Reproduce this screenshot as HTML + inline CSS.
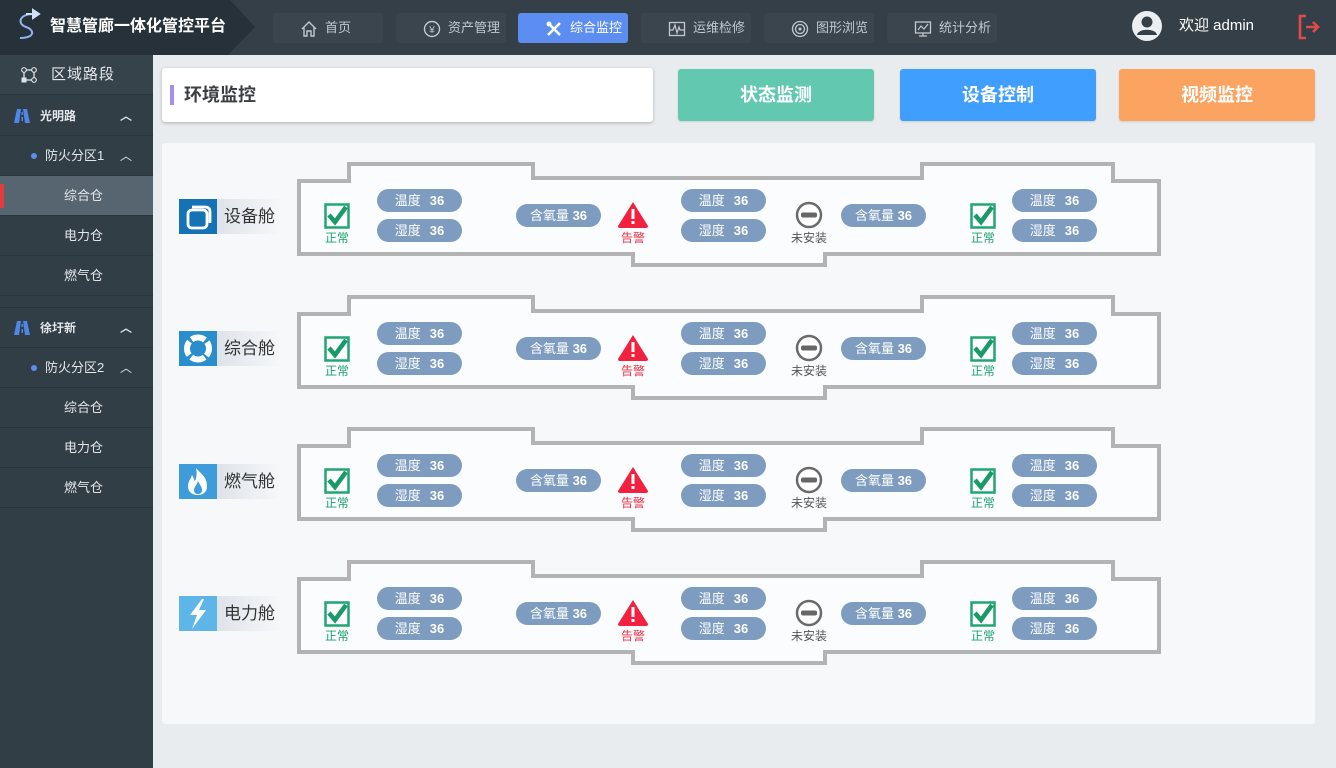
<!DOCTYPE html>
<html><head><meta charset="utf-8">
<style>
*{margin:0;padding:0;box-sizing:border-box}
body{width:1336px;height:768px;overflow:hidden;background:#e8ecef;font-family:"Liberation Sans","Noto Sans CJK SC",sans-serif;position:relative}
.a{position:absolute}
#hdr{left:0;top:0;width:1336px;height:55px;background:#343f48}
.nav{position:absolute;top:13px;height:30px;width:110px;background:#3a454e;border-radius:3px;color:#c3c9ce;font-size:13px;line-height:30px;padding-left:52px}
.nav svg{position:absolute;left:27px;top:7px}
.nav.on{background:#5b8ef0;color:#fff}
#side{left:0;top:55px;width:153px;height:713px;background:#323e46}
.si{position:absolute;left:0;width:153px;height:40px;border-bottom:1px solid #2a343b;color:#e3e7ea;font-size:13px;line-height:40px}
.chev{position:absolute;left:120px;top:0;color:#dfe3e6;font-size:12px}
.pill{position:absolute;height:23px;border-radius:12px;background:#7d9cbf;color:#fff;font-size:13px;line-height:23px;text-align:center;white-space:nowrap}
.pill b{font-weight:bold;margin-left:9px}
.cap{position:absolute;font-size:12px;width:50px;text-align:center;line-height:12px}
.lbl{position:absolute;left:179px;width:100px;height:35px;background:linear-gradient(90deg,#c8d0da 0,#dfe4ea 40%,#f5f7f9 100%)}
.lbl .ic{position:absolute;left:0;top:0;width:38px;height:35px}
.lbl span{position:absolute;left:45px;top:0;line-height:35px;font-size:17px;color:#333}
.btn{position:absolute;top:69px;height:52px;width:196px;border-radius:3px;color:#fff;font-size:18px;font-weight:bold;text-align:center;line-height:52px;box-shadow:0 1px 2px rgba(0,0,0,.12)}
</style></head><body>

<div id="hdr" class="a"></div>
<svg class="a" style="left:0;top:0" width="260" height="55"><polygon points="0,0 230,0 255,27 228,55 0,55" fill="#27313a"/>
<path d="M33 14 C19 14 17 24 26 27 C35 30 35 38 20 38" stroke="#8fb4ec" stroke-width="2" fill="none"/>
<path d="M26 14 H37 M33 10 L39 14 L33 18 Z" stroke="#cfe0f8" stroke-width="2" fill="#cfe0f8"/>
</svg>
<div class="a" style="left:50px;top:15px;color:#fff;font-size:16px;font-weight:bold;line-height:24px;letter-spacing:0">智慧管廊一体化管控平台</div>

<div class="nav" style="left:273px"><svg width="18" height="18" viewBox="0 0 18 18"><path d="M2 9 L9 2 L16 9 M4 7 V16 H7 V11 H11 V16 H14 V7" stroke="#c3c9ce" stroke-width="1.4" fill="none"/></svg>首页</div>
<div class="nav" style="left:396px"><svg width="18" height="18" viewBox="0 0 18 18"><circle cx="9" cy="9" r="7.5" stroke="#c3c9ce" stroke-width="1.4" fill="none"/><text x="9" y="13" font-size="10" fill="#c3c9ce" text-anchor="middle" font-family="Liberation Sans">¥</text></svg>资产管理</div>
<div class="nav on" style="left:518px"><svg width="18" height="18" viewBox="0 0 18 18"><path d="M3 15 L15 3 M3 3 L15 15" stroke="#fff" stroke-width="2.6"/><circle cx="4" cy="4" r="2.5" fill="#fff"/></svg>综合监控</div>
<div class="nav" style="left:641px"><svg width="18" height="18" viewBox="0 0 18 18"><rect x="1.5" y="2.5" width="15" height="13" stroke="#c3c9ce" stroke-width="1.3" fill="none"/><path d="M2 10 H5 L7 5 L9 13 L11 7 L12 10 H16" stroke="#c3c9ce" stroke-width="1.2" fill="none"/></svg>运维检修</div>
<div class="nav" style="left:764px"><svg width="18" height="18" viewBox="0 0 18 18"><circle cx="9" cy="9" r="7.5" stroke="#c3c9ce" stroke-width="1.3" fill="none"/><circle cx="9" cy="9" r="4.5" stroke="#c3c9ce" stroke-width="1.3" fill="none"/><circle cx="9" cy="9" r="1.5" fill="#c3c9ce"/></svg>图形浏览</div>
<div class="nav" style="left:887px"><svg width="18" height="18" viewBox="0 0 18 18"><rect x="1.5" y="2" width="15" height="11" stroke="#c3c9ce" stroke-width="1.3" fill="none"/><path d="M4 10 L7 6 L10 9 L14 4 M9 13 V16 M5 16 H13" stroke="#c3c9ce" stroke-width="1.2" fill="none"/></svg>统计分析</div>

<svg class="a" style="left:1131px;top:10px" width="32" height="32"><circle cx="16" cy="16" r="15" fill="#eceff1"/><circle cx="16" cy="12" r="5.5" fill="#343f48"/><path d="M6 25 C7 18 25 18 26 25 Z" fill="#343f48"/></svg>
<div class="a" style="left:1179px;top:16px;color:#fff;font-size:15px;line-height:20px">欢迎 admin</div>
<svg class="a" style="left:1297px;top:13px" width="26" height="28"><path d="M9 3 H3 V25 H9" stroke="#e04a4a" stroke-width="2.6" fill="none"/><path d="M9 14 H21 M16 9 L21 14 L16 19" stroke="#e04a4a" stroke-width="2.6" fill="none"/></svg>

<div id="side" class="a"></div>
<div class="si" style="top:55px;background:#37434b;font-size:15px;padding-left:51px;letter-spacing:1px">区域路段
<svg class="a" style="left:21px;top:12px" width="16" height="16"><rect x="3" y="3" width="10" height="10" stroke="#dfe3e6" stroke-width="1.3" fill="none"/><circle cx="3" cy="3" r="2.3" fill="#323e46" stroke="#dfe3e6" stroke-width="1.2"/><circle cx="13" cy="3" r="2.3" fill="#323e46" stroke="#dfe3e6" stroke-width="1.2"/><circle cx="13" cy="13" r="2.3" fill="#323e46" stroke="#dfe3e6" stroke-width="1.2"/><rect x="0.5" y="10.5" width="5" height="5" fill="#dfe3e6"/></svg></div>

<div class="si" style="top:96px;font-weight:bold;font-size:12px;padding-left:40px">光明路<svg class="a" style="left:14px;top:13px" width="16" height="14"><polygon points="3,0 7,0 5,14 0,14" fill="#4f86e8"/><polygon points="9,0 13,0 16,14 11,14" fill="#4f86e8"/><rect x="7.5" y="3" width="1.5" height="3" fill="#4f86e8"/><rect x="7.5" y="8" width="1.5" height="4" fill="#4f86e8"/></svg><span class="chev">︿</span></div>
<div class="si" style="top:136px;padding-left:45px">防火分区1<span class="a" style="left:31px;top:17px;width:6px;height:6px;border-radius:3px;background:#5b8ef0"></span><span class="chev">︿</span></div>
<div class="si" style="top:176px;background:#56656f;padding-left:64px">综合仓<span class="a" style="left:0;top:8px;width:4px;height:24px;background:#e23b3b"></span></div>
<div class="si" style="top:216px;padding-left:64px">电力仓</div>
<div class="si" style="top:256px;padding-left:64px">燃气仓</div>
<div class="a" style="left:0;top:307px;width:153px;height:1px;background:#2a343b"></div>
<div class="si" style="top:308px;font-weight:bold;font-size:12px;padding-left:40px">徐圩新<svg class="a" style="left:14px;top:13px" width="16" height="14"><polygon points="3,0 7,0 5,14 0,14" fill="#4f86e8"/><polygon points="9,0 13,0 16,14 11,14" fill="#4f86e8"/><rect x="7.5" y="3" width="1.5" height="3" fill="#4f86e8"/><rect x="7.5" y="8" width="1.5" height="4" fill="#4f86e8"/></svg><span class="chev">︿</span></div>
<div class="si" style="top:348px;padding-left:45px">防火分区2<span class="a" style="left:31px;top:17px;width:6px;height:6px;border-radius:3px;background:#5b8ef0"></span><span class="chev">︿</span></div>
<div class="si" style="top:388px;padding-left:64px">综合仓</div>
<div class="si" style="top:428px;padding-left:64px">电力仓</div>
<div class="si" style="top:468px;padding-left:64px">燃气仓</div>

<div class="a" style="left:162px;top:68px;width:491px;height:54px;background:#fff;border-radius:3px;box-shadow:0 1px 3px rgba(0,0,0,.25)"></div>
<div class="a" style="left:170px;top:85px;width:4px;height:20px;background:#a98cf0"></div>
<div class="a" style="left:184px;top:83px;font-size:18px;font-weight:bold;color:#3b3f44;line-height:24px">环境监控</div>
<div class="btn" style="left:678px;background:#62c8b0">状态监测</div>
<div class="btn" style="left:900px;background:#409efe">设备控制</div>
<div class="btn" style="left:1119px;background:#fba462">视频监控</div>

<div class="a" style="left:162px;top:143px;width:1153px;height:581px;background:#f7f8fa;border-radius:3px"></div>

<svg class="a" style="left:0;top:0" width="1336" height="768">
<defs>
<g id="pipe"><path d="M299,181 H349 V164 H533 V178 H922 V164 H1113 V181 H1159 V254 H825 V265 H633 V254 H299 Z" fill="#fbfcfd" stroke="#b3b3b3" stroke-width="4"/></g>
<g id="chk"><rect x="1.5" y="1.5" width="23" height="23" fill="#fff" stroke="#1fa672" stroke-width="2.5"/><path d="M5 12 L11 19 L22 4" stroke="#1a9a68" stroke-width="4.5" fill="none"/></g>
<g id="warn"><path d="M15 1 L30 25 Q30 27 28 27 H2 Q0 27 0 25 Z" fill="#f2213f"/><rect x="13.5" y="8" width="3" height="10" fill="#fff"/><rect x="13.5" y="20" width="3" height="3" fill="#fff"/></g>
<g id="minus"><circle cx="14" cy="13" r="12" fill="#fff" stroke="#6a6a6a" stroke-width="2.5"/><rect x="6" y="10.5" width="16" height="5" rx="2" fill="#666"/></g>
</defs>
<use href="#pipe"/>
<use href="#pipe" y="133"/>
<use href="#pipe" y="265"/>
<use href="#pipe" y="398"/>
<use href="#chk" x="324" y="203"/><use href="#chk" x="970" y="203"/>
<use href="#chk" x="324" y="336"/><use href="#chk" x="970" y="336"/>
<use href="#chk" x="324" y="468"/><use href="#chk" x="970" y="468"/>
<use href="#chk" x="324" y="601"/><use href="#chk" x="970" y="601"/>
<use href="#warn" x="618" y="201"/><use href="#warn" x="618" y="334"/><use href="#warn" x="618" y="466"/><use href="#warn" x="618" y="599"/>
<use href="#minus" x="795" y="202"/><use href="#minus" x="795" y="335"/><use href="#minus" x="795" y="467"/><use href="#minus" x="795" y="600"/>
</svg>

<!-- labels -->
<div class="lbl" style="top:199px"><div class="ic" style="background:#1572b5"><svg width="38" height="35"><rect x="9" y="11" width="19" height="18" rx="4" fill="none" stroke="#fff" stroke-width="2.8"/><path d="M13 8 H26 Q31 8 31 13 V24" fill="none" stroke="#fff" stroke-width="2.8"/></svg></div><span>设备舱</span></div>
<div class="lbl" style="top:331px"><div class="ic" style="background:#2a8dcc"><svg width="38" height="35"><circle cx="19" cy="17.5" r="11" fill="none" stroke="#fff" stroke-width="6"/><circle cx="19" cy="17.5" r="11" fill="none" stroke="#2a8dcc" stroke-width="7" stroke-dasharray="3 14.3" stroke-dashoffset="1.5" transform="rotate(45 19 17.5)"/></svg></div><span>综合舱</span></div>
<div class="lbl" style="top:464px"><div class="ic" style="background:#3d9cd9"><svg width="38" height="35"><path d="M17 4 C22 10 28 13 28 22 C28 28 24 31 19 31 C13 31 9 28 9 22 C9 17 12 15 13 11 C15 14 15 16 16 17 C18 13 18 8 17 4 Z" fill="#fff"/><path d="M19 17 C21 21 23 23 23 26 C23 29 21 30 19 30 C17 30 15 29 15 26 C15 23 18 21 19 17 Z" fill="#3d9cd9"/></svg></div><span>燃气舱</span></div>
<div class="lbl" style="top:596px"><div class="ic" style="background:#5db5e8"><svg width="38" height="35"><polygon points="23,3 11,19 18,19 13,33 27,14 20,14 25,3" fill="#fff"/></svg></div><span>电力舱</span></div>

<!-- row content -->
<div class="a" style="left:0;top:0">
<div class="pill" style="left:377px;top:189px;width:85px">温度<b>36</b></div>
<div class="pill" style="left:377px;top:219px;width:85px">湿度<b>36</b></div>
<div class="pill" style="left:516px;top:204px;width:85px">含氧量 <b style="margin-left:0">36</b></div>
<div class="pill" style="left:681px;top:189px;width:85px">温度<b>36</b></div>
<div class="pill" style="left:681px;top:219px;width:85px">湿度<b>36</b></div>
<div class="pill" style="left:841px;top:204px;width:85px">含氧量 <b style="margin-left:0">36</b></div>
<div class="pill" style="left:1012px;top:189px;width:85px">温度<b>36</b></div>
<div class="pill" style="left:1012px;top:219px;width:85px">湿度<b>36</b></div>
<div class="cap" style="left:312px;top:232px;color:#1aa36f">正常</div>
<div class="cap" style="left:608px;top:232px;color:#e8334a">告警</div>
<div class="cap" style="left:784px;top:232px;color:#555">未安装</div>
<div class="cap" style="left:958px;top:232px;color:#1aa36f">正常</div>
</div>
<div class="a" style="left:0;top:133px">
<div class="pill" style="left:377px;top:189px;width:85px">温度<b>36</b></div>
<div class="pill" style="left:377px;top:219px;width:85px">湿度<b>36</b></div>
<div class="pill" style="left:516px;top:204px;width:85px">含氧量 <b style="margin-left:0">36</b></div>
<div class="pill" style="left:681px;top:189px;width:85px">温度<b>36</b></div>
<div class="pill" style="left:681px;top:219px;width:85px">湿度<b>36</b></div>
<div class="pill" style="left:841px;top:204px;width:85px">含氧量 <b style="margin-left:0">36</b></div>
<div class="pill" style="left:1012px;top:189px;width:85px">温度<b>36</b></div>
<div class="pill" style="left:1012px;top:219px;width:85px">湿度<b>36</b></div>
<div class="cap" style="left:312px;top:232px;color:#1aa36f">正常</div>
<div class="cap" style="left:608px;top:232px;color:#e8334a">告警</div>
<div class="cap" style="left:784px;top:232px;color:#555">未安装</div>
<div class="cap" style="left:958px;top:232px;color:#1aa36f">正常</div>
</div>
<div class="a" style="left:0;top:265px">
<div class="pill" style="left:377px;top:189px;width:85px">温度<b>36</b></div>
<div class="pill" style="left:377px;top:219px;width:85px">湿度<b>36</b></div>
<div class="pill" style="left:516px;top:204px;width:85px">含氧量 <b style="margin-left:0">36</b></div>
<div class="pill" style="left:681px;top:189px;width:85px">温度<b>36</b></div>
<div class="pill" style="left:681px;top:219px;width:85px">湿度<b>36</b></div>
<div class="pill" style="left:841px;top:204px;width:85px">含氧量 <b style="margin-left:0">36</b></div>
<div class="pill" style="left:1012px;top:189px;width:85px">温度<b>36</b></div>
<div class="pill" style="left:1012px;top:219px;width:85px">湿度<b>36</b></div>
<div class="cap" style="left:312px;top:232px;color:#1aa36f">正常</div>
<div class="cap" style="left:608px;top:232px;color:#e8334a">告警</div>
<div class="cap" style="left:784px;top:232px;color:#555">未安装</div>
<div class="cap" style="left:958px;top:232px;color:#1aa36f">正常</div>
</div>
<div class="a" style="left:0;top:398px">
<div class="pill" style="left:377px;top:189px;width:85px">温度<b>36</b></div>
<div class="pill" style="left:377px;top:219px;width:85px">湿度<b>36</b></div>
<div class="pill" style="left:516px;top:204px;width:85px">含氧量 <b style="margin-left:0">36</b></div>
<div class="pill" style="left:681px;top:189px;width:85px">温度<b>36</b></div>
<div class="pill" style="left:681px;top:219px;width:85px">湿度<b>36</b></div>
<div class="pill" style="left:841px;top:204px;width:85px">含氧量 <b style="margin-left:0">36</b></div>
<div class="pill" style="left:1012px;top:189px;width:85px">温度<b>36</b></div>
<div class="pill" style="left:1012px;top:219px;width:85px">湿度<b>36</b></div>
<div class="cap" style="left:312px;top:232px;color:#1aa36f">正常</div>
<div class="cap" style="left:608px;top:232px;color:#e8334a">告警</div>
<div class="cap" style="left:784px;top:232px;color:#555">未安装</div>
<div class="cap" style="left:958px;top:232px;color:#1aa36f">正常</div>
</div>

</body></html>
